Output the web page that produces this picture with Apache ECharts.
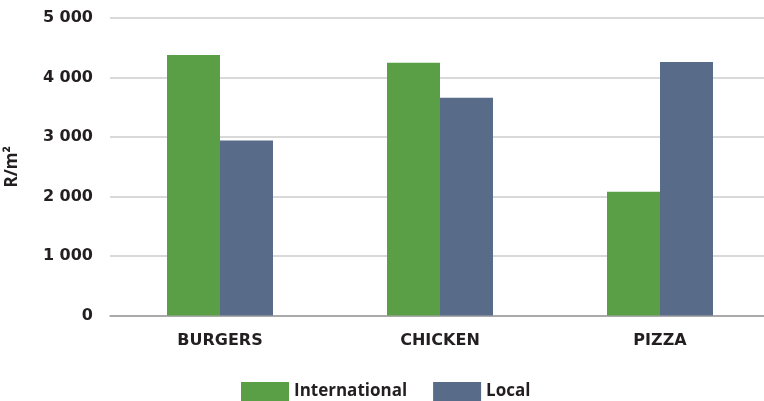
<!DOCTYPE html>
<html>
<head>
<meta charset="utf-8">
<script src="https://cdn.jsdelivr.net/npm/echarts@6/dist/echarts.min.js"></script>
<style>
html,body{margin:0;padding:0;background:#fff;}
#chart{width:764px;height:401px;}
</style>
</head>
<body>
<div id="chart"></div>
<script>
const categories = ['BURGERS', 'CHICKEN', 'PIZZA'];
const international = [4380, 4250, 2080];
const local = [2940, 3660, 4260];
const seriesNames = ['International', 'Local'];
const yTicks = { min: 0, max: 5000, interval: 1000 };

const chart = echarts.init(document.getElementById('chart'));
const capFont = '"DejaVu Sans", sans-serif';
const textFont = '"Open Sans", sans-serif';
const ink = '#231f20';
chart.setOption({
  animation: false,
  textStyle: { fontFamily: textFont },
  grid: { left: 110, right: -6, top: 18, bottom: 85.5, containLabel: false, outerBoundsMode: 'none' },
  legend: {
    top: 377,
    left: 236,
    itemWidth: 48,
    itemHeight: 19,
    itemGap: 26,
    icon: 'rect',
    textStyle: { fontSize: 17, fontWeight: 'bold', color: ink, fontFamily: textFont },
    data: seriesNames
  },
  xAxis: {
    type: 'category',
    data: categories,
    axisTick: { show: false },
    axisLine: { lineStyle: { color: '#9a9a9a', width: 1.5 } },
    axisLabel: { margin: 17, fontSize: 16, fontWeight: 'bold', color: ink, fontFamily: capFont }
  },
  yAxis: {
    type: 'value',
    min: yTicks.min, max: yTicks.max, interval: yTicks.interval,
    name: 'R/m²',
    nameLocation: 'middle',
    nameGap: 89,
    nameRotate: 90,
    nameTextStyle: { fontSize: 17, fontWeight: 'bold', color: ink, fontFamily: textFont },
    axisLine: { show: false },
    axisTick: { show: false },
    axisLabel: {
      margin: 17, fontSize: 16, fontWeight: 'bold', color: ink, fontFamily: capFont,
      formatter: v => String(v).replace(/\B(?=(\d{3})+(?!\d))/g, ' ')
    },
    splitLine: { lineStyle: { color: '#cccccc', width: 1.5 } }
  },
  series: [
    { name: seriesNames[0], type: 'bar', data: international, barWidth: 53, barGap: '0%', itemStyle: { color: '#5a9e46' } },
    { name: seriesNames[1], type: 'bar', data: local, barWidth: 53, barGap: '0%', itemStyle: { color: '#586b89' } }
  ]
});
</script>
</body>
</html>
